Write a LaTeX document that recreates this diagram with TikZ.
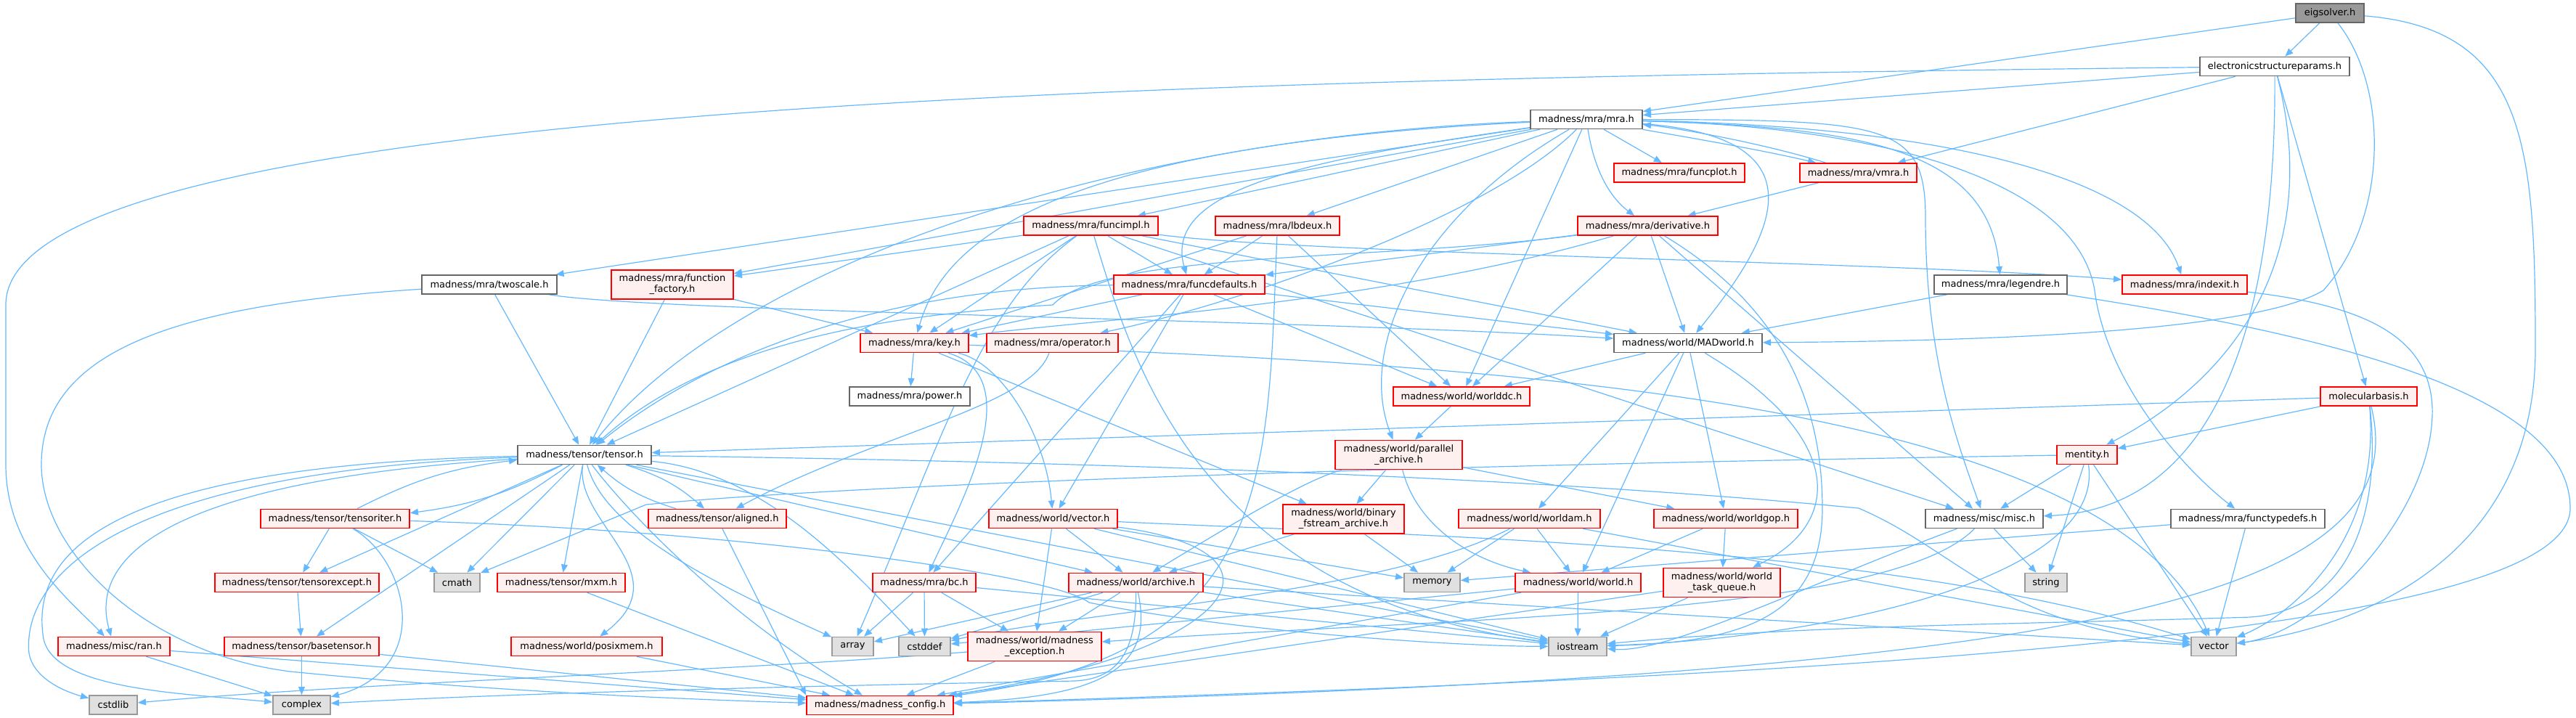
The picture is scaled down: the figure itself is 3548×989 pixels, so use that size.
\documentclass[tikz,border=0pt]{standalone}
\usepackage{fontspec}
\setmainfont{DejaVu Sans}
\usetikzlibrary{arrows.meta,backgrounds}
\definecolor{edgeblue}{HTML}{63B8FF}
\definecolor{truncred}{HTML}{FF0000}
\definecolor{truncfill}{HTML}{FFF0F0}
\definecolor{nodegray}{HTML}{666666}
\definecolor{sysgray}{HTML}{999999}
\definecolor{sysfill}{HTML}{E0E0E0}
\definecolor{rootfill}{HTML}{999999}
\tikzset{
  hdr/.style={font=\fontsize{9.25}{10.7}\selectfont,align=center,inner sep=0pt,line width=0.4mm,text=black},
  filebox/.style={hdr,draw=nodegray,fill=white},
  truncbox/.style={hdr,draw=truncred,fill=truncfill},
  sysbox/.style={hdr,draw=sysgray,fill=sysfill},
  rootbox/.style={hdr,draw=nodegray,fill=rootfill},
  dep/.style={-{Triangle[length=2.8mm,width=2.2mm]},draw=edgeblue,line width=0.3mm}
}
\begin{document}
\begin{tikzpicture}[x=0.25mm,y=-0.25mm]
\path[use as bounding box] (0,0) rectangle (3548,989);
\foreach \nm/\x/\y/\w/\h/\sty/\txt in {
eigsolver/3209/18/94/26/rootbox/{eigsolver.h},
esparams/3133/91.5/206/26/filebox/{electronicstructureparams.h},
mrah/2185/164.5/154/26/filebox/{madness/mra/mra.h},
funcplot/2313/238/180/26/truncbox/{madness/mra/funcplot.h},
vmra/2559.5/238/161/26/truncbox/{madness/mra/vmra.h},
derivative/2269.5/311/193/26/truncbox/{madness/mra/derivative.h},
lbdeux/1759.5/311/171/26/truncbox/{madness/mra/lbdeux.h},
funcimpl/1502.5/311/185/26/truncbox/{madness/mra/funcimpl.h},
factory/926/392/168/40/truncbox/{madness/mra/function\\\_factory.h},
twoscale/674/392/186/26/filebox/{madness/mra/twoscale.h},
funcdefaults/1638/392/208/26/truncbox/{madness/mra/funcdefaults.h},
madworld/2325/472.5/204/26/filebox/{madness/world/MADworld.h},
legendre/2755.5/392/183/26/filebox/{madness/mra/legendre.h},
indexit/3009/392/172/26/truncbox/{madness/mra/indexit.h},
keyh/1259.5/472.5/149/26/truncbox/{madness/mra/key.h},
operatorh/1449.5/472.5/181/26/truncbox/{madness/mra/operator.h},
powerh/1253/546/166/26/filebox/{madness/mra/power.h},
worlddc/2013/546/188/26/truncbox/{madness/world/worlddc.h},
parallel/1926.5/626.5/175/40/truncbox/{madness/world/parallel\\\_archive.h},
tensorh/805/626.5/184/26/filebox/{madness/tensor/tensor.h},
molbasis/3262.5/546/133/26/truncbox/{molecularbasis.h},
mentity/2874.5/626.5/83/26/truncbox/{mentity.h},
tensoriter/461.5/714.5/205/26/truncbox/{madness/tensor/tensoriter.h},
aligned/988/714.5/190/26/truncbox/{madness/tensor/aligned.h},
wvector/1450.5/714.5/177/26/truncbox/{madness/world/vector.h},
binary/1850.5/715/167/40/truncbox/{madness/world/binary\\\_fstream\_archive.h},
worldam/2106.5/714.5/195/26/truncbox/{madness/world/worldam.h},
worldgop/2377/714.5/198/26/truncbox/{madness/world/worldgop.h},
misch/2733/714.5/162/26/filebox/{madness/misc/misc.h},
functypedefs/3096/714.5/212/26/filebox/{madness/mra/functypedefs.h},
tensorexcept/409/802.5/226/26/truncbox/{madness/tensor/tensorexcept.h},
cmath/629.5/802.5/63/26/sysbox/{cmath},
mxm/773/802.5/176/26/truncbox/{madness/tensor/mxm.h},
bch/1273/802.5/142/26/truncbox/{madness/mra/bc.h},
archive/1564.5/802.5/185/26/truncbox/{madness/world/archive.h},
memory/1972.5/802.5/77/26/sysbox/{memory},
worldh/2173.5/802.5/173/26/truncbox/{madness/world/world.h},
taskqueue/2371.5/802.5/161/40/truncbox/{madness/world/world\\\_task\_queue.h},
stringh/2818/802.5/58/26/sysbox/{string},
ran/157/890.5/154/26/truncbox/{madness/misc/ran.h},
basetensor/415.5/890.5/213/26/truncbox/{madness/tensor/basetensor.h},
posixmem/808/890.5/208/26/truncbox/{madness/world/posixmem.h},
arrayh/1174.5/890.5/57/26/sysbox/{array},
cstddef/1273.5/890.5/71/26/sysbox/{cstddef},
exception/1425/890.5/184/40/truncbox/{madness/world/madness\\\_exception.h},
iostream/2173/890.5/80/26/sysbox/{iostream},
stdvector/3049/890.5/62/26/sysbox/{vector},
cstdlib/156/971/66/26/sysbox/{cstdlib},
complex/415.5/971/79/26/sysbox/{complex},
config/1212/971.5/202/26/truncbox/{madness/madness\_config.h}}
{\node[\sty,minimum width=\w*0.25mm,minimum height=\h*0.25mm] (\nm) at (\x,\y) {\txt};}
\begin{scope}[on background layer]
\foreach \src/\dsts in {
eigsolver/{mrah,esparams},
esparams/{mrah,vmra,molbasis},
mrah/{worlddc,factory,twoscale,lbdeux,funcimpl,funcplot},
vmra/{derivative},
derivative/{funcdefaults,worlddc,madworld,misch},
lbdeux/{keyh,funcdefaults,worlddc},
funcimpl/{tensorh,factory,keyh,funcdefaults,madworld,misch},
factory/{keyh,tensorh},
twoscale/{tensorh},
funcdefaults/{keyh,bch,wvector,worlddc,madworld},
legendre/{madworld},
keyh/{powerh,binary},
madworld/{worlddc,worldam,worldh,worldgop},
worlddc/{parallel},
parallel/{binary,worldgop},
binary/{memory,archive},
worldam/{memory,worldh,stdvector},
worldgop/{worldh,taskqueue},
functypedefs/{memory,stdvector},
worldh/{iostream,config,cstddef},
taskqueue/{iostream,config},
misch/{stringh},
mentity/{misch,stringh,stdvector},
molbasis/{mentity,tensorh},
tensorh/{basetensor,tensorexcept,cmath,mxm,archive,iostream},
tensoriter/{tensorexcept,cmath},
archive/{arrayh,cstddef,exception,iostream,stdvector},
wvector/{exception,archive,iostream,memory},
bch/{arrayh,cstddef,exception,iostream},
exception/{config},
ran/{complex,config},
basetensor/{complex,config},
tensorexcept/{basetensor},
posixmem/{config},
mxm/{config}}
{\foreach \dst in \dsts {\draw[dep] (\src) -- (\dst);}}
\draw[dep] (eigsolver) .. controls (3290,120) and (3290,300) .. (3200,400) .. controls (3100,460) and (2700,470) .. (madworld);
\draw[dep] (eigsolver) .. controls (3480,40) and (3492,200) .. (3492,480) .. controls (3492,800) and (3200,870) .. (stdvector);
\draw[dep] (esparams) .. controls (1500,110) and (8,150) .. (8,420) -- (8,640) .. controls (8,760) and (100,830) .. (ran);
\draw[dep] (esparams) .. controls (3135,450) and (3050,700) .. (misch);
\draw[dep] (esparams) .. controls (3200,350) and (3080,520) .. (mentity);
\draw[dep] (mrah) .. controls (2520,190) and (2440,330) .. (madworld);
\draw[dep] (mrah) .. controls (2700,175) and (2960,250) .. (indexit);
\draw[dep] (mrah) .. controls (2550,175) and (2740,200) .. (legendre);
\draw[dep] (mrah) .. controls (2600,175) and (2860,250) .. (2885,400) .. controls (2900,520) and (3000,640) .. (functypedefs);
\draw[dep] (mrah) .. controls (2195,230) and (2215,270) .. (derivative);
\draw[dep] (mrah) .. controls (1800,220) and (1600,260) .. (funcdefaults);
\draw[dep] (mrah) .. controls (1450,200) and (1300,330) .. (keyh);
\draw[dep] (mrah) .. controls (1500,190) and (1000,380) .. (tensorh);
\draw[dep] (mrah) .. controls (1950,300) and (1870,480) .. (parallel);
\draw[dep] (mrah) .. controls (2050,300) and (1700,420) .. (operatorh);
\draw[dep] (mrah) .. controls (2600,165) and (2652,170) .. (2652,300) .. controls (2652,500) and (2700,620) .. (misch);
\draw[dep] (mrah) .. controls (2300,185) and (2420,205) .. (vmra);
\draw[dep] (vmra) .. controls (2420,195) and (2300,175) .. (mrah);
\draw[dep] (derivative) .. controls (1900,420) and (1500,440) .. (keyh);
\draw[dep] (derivative) .. controls (1900,360) and (1520,345) .. (1450,420) .. controls (1300,430) and (1000,450) .. (tensorh);
\draw[dep] (derivative) .. controls (2450,420) and (2510,550) .. (2510,700) .. controls (2510,850) and (2400,885) .. (iostream);
\draw[dep] (lbdeux) .. controls (1745,650) and (1760,900) .. (config);
\draw[dep] (funcimpl) .. controls (1350,420) and (1300,600) .. (arrayh);
\draw[dep] (funcimpl) .. controls (1800,350) and (2600,360) .. (indexit);
\draw[dep] (funcimpl) .. controls (1560,500) and (1650,820) .. (iostream);
\draw[dep] (twoscale) .. controls (250,420) and (57,480) .. (57,640) .. controls (57,760) and (200,900) .. (400,925) .. controls (700,955) and (1000,965) .. (config);
\draw[dep] (twoscale) .. controls (900,430) and (1800,440) .. (madworld);
\draw[dep] (funcdefaults) .. controls (1250,395) and (1000,470) .. (tensorh);
\draw[dep] (legendre) .. controls (3200,460) and (3540,540) .. (3540,700) .. controls (3540,870) and (2600,930) .. (config);
\draw[dep] (indexit) .. controls (3250,420) and (3345,460) .. (3350,560) .. controls (3355,700) and (3200,870) .. (stdvector);
\draw[dep] (keyh) .. controls (1420,520) and (1320,700) .. (bch);
\draw[dep] (keyh) .. controls (1380,500) and (1440,600) .. (wvector);
\draw[dep] (keyh) .. controls (2000,500) and (2900,540) .. (stdvector);
\draw[dep] (operatorh) .. controls (1420,560) and (1200,600) .. (aligned);
\draw[dep] (madworld) .. controls (2540,600) and (2540,720) .. (taskqueue);
\draw[dep] (parallel) .. controls (1800,660) and (1700,720) .. (archive);
\draw[dep] (parallel) .. controls (1950,720) and (2020,770) .. (worldh);
\draw[dep] (worldam) .. controls (1900,820) and (1500,840) .. (cstddef);
\draw[dep] (misch) .. controls (2500,800) and (2300,900) .. (iostream);
\draw[dep] (misch) .. controls (2600,850) and (2000,850) .. (exception);
\draw[dep] (mentity) .. controls (2000,640) and (1200,665) .. (890,695) -- (cmath);
\draw[dep] (mentity) .. controls (2900,800) and (2500,880) .. (iostream);
\draw[dep] (molbasis) .. controls (3280,750) and (3150,850) .. (stdvector);
\draw[dep] (molbasis) .. controls (3280,700) and (3240,840) .. (3100,850) .. controls (2800,860) and (2500,860) .. (iostream);
\draw[dep] (molbasis) .. controls (3330,820) and (2900,930) .. (config);
\draw[dep] (tensorh) .. controls (150,650) and (30,800) .. (40,900) .. controls (45,930) and (80,950) .. (cstdlib);
\draw[dep] (tensorh) .. controls (150,640) and (40,760) .. (60,880) .. controls (75,950) and (250,955) .. (complex);
\draw[dep] (tensorh) .. controls (250,660) and (120,760) .. (ran);
\draw[dep] (tensorh) .. controls (790,720) and (940,790) .. (posixmem);
\draw[dep] (tensorh) .. controls (830,720) and (950,790) .. (arrayh);
\draw[dep] (tensorh) .. controls (1050,650) and (1170,780) .. (cstddef);
\draw[dep] (tensorh) .. controls (860,700) and (1000,850) .. (config);
\draw[dep] (tensorh) .. controls (1800,640) and (2300,675) .. (2560,700) .. controls (2700,760) and (2750,860) .. (stdvector);
\draw[dep] (tensorh) to[bend left=10] (tensoriter);
\draw[dep] (tensoriter) to[bend left=10] (tensorh);
\draw[dep] (tensorh) to[bend left=12] (aligned);
\draw[dep] (aligned) to[bend left=12] (tensorh);
\draw[dep] (tensoriter) .. controls (560,770) and (600,920) .. (complex);
\draw[dep] (tensoriter) .. controls (1000,730) and (1450,790) .. (1500,830) .. controls (1700,870) and (2000,890) .. (iostream);
\draw[dep] (aligned) -- (config.north west);
\draw[dep] (archive) .. controls (1590,920) and (1520,960) .. (config);
\draw[dep] (archive) .. controls (1565,890) and (1545,935) .. (1480,938) .. controls (1100,945) and (700,955) .. (complex);
\draw[dep] (wvector) .. controls (1800,760) and (1700,900) .. (config);
\draw[dep] (wvector) .. controls (2000,740) and (2600,750) .. (stdvector);
\draw[dep] (exception) .. controls (1000,925) and (500,940) .. (cstdlib);
\end{scope}
\end{tikzpicture}
\end{document}
